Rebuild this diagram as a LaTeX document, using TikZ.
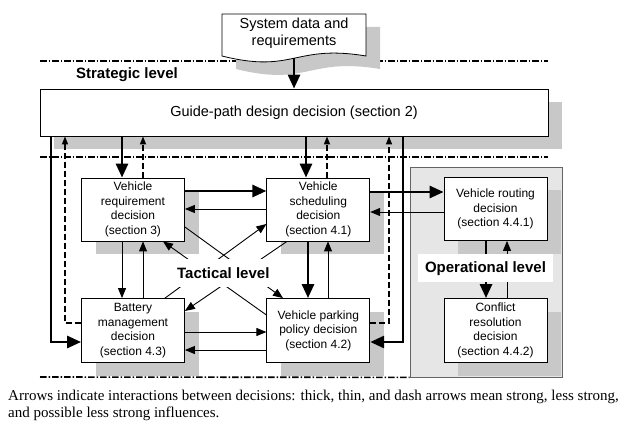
\documentclass[tikz,border=0pt]{standalone}
\usepackage{fontspec}
\setmainfont{Liberation Sans}
\newfontfamily\capfont{Liberation Serif}
\usetikzlibrary{arrows.meta,shadows}
\definecolor{shd}{RGB}{200,200,200}
\definecolor{opfill}{RGB}{230,230,230}
\definecolor{opline}{RGB}{100,100,100}
\tikzset{dbox/.style={draw, fill=white, line width=0.8pt, align=center, inner sep=0pt,
           minimum width=103pt, minimum height=63pt, font=\fontsize{12}{14.5}\selectfont,
           drop shadow={shadow xshift=14pt, shadow yshift=-13pt, fill=shd, opacity=1}},
         lvl/.style={font=\fontsize{15}{18}\selectfont\bfseries},
         thk/.style={line width=2.8pt, -{Triangle[length=14pt,width=12pt]}},
         thn/.style={line width=0.9pt, -{Triangle[length=10pt,width=8pt]}},
         dsh/.style={line width=1.4pt, dash pattern=on 6pt off 3pt, -{Triangle[length=8pt,width=6pt]}},
         sep/.style={line width=1.6pt, dash pattern=on 6.5pt off 2pt on 1.5pt off 2pt}}

\begin{document}
\begin{tikzpicture}[x=1pt, y=-1pt]
  \useasboundingbox (0,0) rectangle (636,430);

  % ---------- strategic level ----------
  \draw[sep] (40,61) -- (548,61);
  \fill[shd, shift={(14,13)}] (222,14) -- (366,14) -- (366,56) .. controls (294,44) and (294,74) .. (222,56) -- cycle;
  \draw[fill=white, line width=0.8pt] (222,14) -- (366,14) -- (366,56) .. controls (294,44) and (294,74) .. (222,56) -- cycle;
  \node[font=\fontsize{14.5}{16.7}\selectfont, align=center] (sysdata) at (294,33) {System data and\\requirements};
  \coordinate (docbot) at (294,58.5);
  \node[lvl] (strat) at (127,75) {Strategic level};
  \node[dbox, minimum width=508pt, minimum height=47pt, font=\fontsize{14.5}{17}\selectfont] (guide) at (294,112.5)
        {Guide-path design decision (section 2)};
  \draw[thk] (docbot) -- (guide.north -| docbot);

  \draw[sep] (40,157) -- (548,157);

  % ---------- operational area ----------
  \node[draw=opline, fill=opfill, line width=0.8pt, inner sep=0pt, minimum width=152pt, minimum height=210pt] (opbox) at (486,272) {};

  % ---------- decision boxes ----------
  \node[dbox] (req)   at (133,209.5)   {Vehicle\\requirement\\decision\\(section 3)};
  \node[dbox] (sched) at (318.3,209.5) {Vehicle\\scheduling\\decision\\(section 4.1)};
  \node[dbox, minimum height=64pt] (batt) at (133,330.5)   {Battery\\management\\decision\\(section 4.3)};
  \node[dbox, minimum height=64pt] (park) at (318.3,330.5) {Vehicle parking\\policy decision\\(section 4.2)};
  \node[dbox] (route) at (495.5,209) {Vehicle routing\\decision\\(section 4.4.1)};
  \node[dbox, minimum height=64pt] (confl) at (495.5,330.5) {Conflict\\resolution\\decision\\(section 4.4.2)};

  \draw[sep] (40,377) -- (opbox.south west);

  % ---------- guide-path <-> tactical ----------
  \draw[thk] (guide.south -| 51,0) |- (batt.west |- 0,342);
  \draw[dsh] (batt.west |- 0,323) -| (guide.south -| 65,0);
  \draw[thk] (guide.south -| 122,0) -- (req.north -| 122,0);
  \draw[dsh] (req.north -| 143,0) -- (guide.south -| 143,0);
  \draw[thk] (guide.south -| 306,0) -- (sched.north -| 306,0);
  \draw[dsh] (sched.north -| 327,0) -- (guide.south -| 327,0);
  \draw[dsh] (park.east |- 0,323) -| (guide.south -| 389,0);
  \draw[thk] (guide.south -| 403,0) |- (park.east |- 0,342);

  % ---------- tactical ----------
  \draw[thk] (req.east |- 0,191) -- (sched.west |- 0,191);
  \draw[thn] (sched.west |- 0,209) -- (req.east |- 0,209);
  \draw[thn] (req.south -| 122,0) -- (batt.north -| 122,0);
  \draw[thn] (batt.north -| 143,0) -- (req.south -| 143,0);
  \draw[thk] (sched.south -| 308,0) -- (park.north -| 308,0);
  \draw[thn] (park.north -| 328,0) -- (sched.south -| 328,0);
  \draw[thn] (batt.east |- 0,332) -- (park.west |- 0,332);
  \draw[thn] (park.west |- 0,350) -- (batt.east |- 0,350);
  \draw[thn] (req.east |- 0,227) -- (park.north -| 283,0);
  \draw[thn] (park.west |- 0,315) -- (req.south -| 163,0);
  \draw[thn] (batt.north -| 165,0) -- (sched.west |- 0,224);
  \draw[thn] (sched.south -| 287,0) -- (batt.east |- 0,311);
  \node[lvl, fill=white, inner xsep=1pt, inner ysep=8pt] (tact) at (223.3,273) {Tactical level};

  % ---------- tactical <-> operational ----------
  \draw[thk] (sched.east |- 0,192) -- (route.west |- 0,192);
  \draw[thn] (route.west |- 0,212) -- (sched.east |- 0,212);
  \draw[thk] (route.south -| 486,0) -- (confl.north -| 486,0);
  \draw[thn] (confl.north -| 507,0) -- (route.south -| 507,0);
  \node[lvl, fill=white, inner xsep=7.5pt, inner ysep=7pt] (oper) at (485.5,268.3) {Operational level};

  \node[anchor=north west, align=left, inner sep=0pt, font=\capfont\fontsize{15}{17}\selectfont] (cap) at (8,390)
        {Arrows indicate interactions between decisions: thick, thin, and dash arrows mean strong, less strong,\\
         and possible less strong influences.};

\end{tikzpicture}
\end{document}
